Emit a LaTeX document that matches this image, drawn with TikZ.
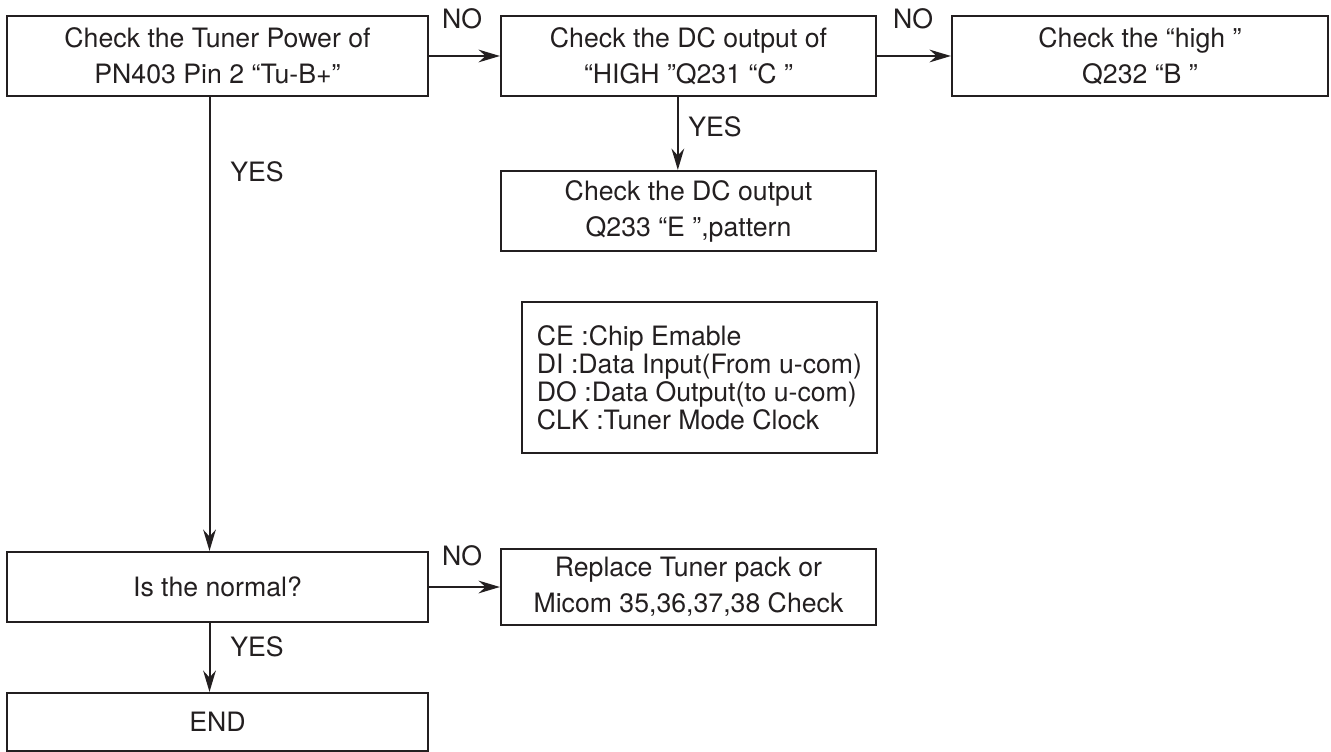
\documentclass[tikz,border=0pt]{standalone}
\usepackage{fontspec}
\setmainfont{TeX Gyre Heros}
\usetikzlibrary{arrows.meta}
\definecolor{ink}{RGB}{35,31,32}
\begin{document}
\begin{tikzpicture}[x=0.75pt,y=-0.75pt,color=ink,
    box/.style={draw,line width=1.6pt,align=center,inner sep=0pt,
      font=\fontsize{20}{27}\selectfont},
    lbl/.style={font=\fontsize{20}{24}\selectfont,inner sep=0pt},
    arr/.style={line width=1.5pt,-{Stealth[length=16pt,width=9.5pt]}}]
  \useasboundingbox (0,0) rectangle (1331,752);
  % top row
  \node[box,minimum width=315.75pt,minimum height=60pt] (tunerpwr) at (217.5,56)
    {Check the Tuner Power of\\PN403 Pin 2 “Tu-B+”};
  \node[box,minimum width=281.25pt,minimum height=60pt] (dcout) at (688.5,56)
    {Check the DC output of\\“HIGH ”Q231 “C ”};
  \node[box,minimum width=282pt,minimum height=60pt] (highchk) at (1140,56)
    {Check the “high ”\\Q232 “B ”};
  \node[box,minimum width=281.25pt,minimum height=60pt] (dcoutE) at (688.5,211)
    {Check the DC output\\Q233 “E ”,pattern};
  % legend
  \node[box,align=left,font=\fontsize{20}{21}\selectfont,
        minimum width=266.25pt,minimum height=113.25pt] (legend) at (699.5,377.5)
    {CE :Chip Emable\\DI :Data Input(From u-com)\\DO :Data Output(to u-com)\\CLK :Tuner Mode Clock};
  % bottom
  \node[box,minimum width=315.75pt,minimum height=52.5pt] (normal) at (217.5,587)
    {Is the normal?};
  \node[box,minimum width=281.25pt,minimum height=57pt] (replace) at (688.5,587)
    {Replace Tuner pack or\\Micom 35,36,37,38 Check};
  \node[box,minimum width=315.75pt,minimum height=43.5pt] (finish) at (217.5,722)
    {END};

  \draw[arr] (tunerpwr) -- (dcout);
  \draw[arr] (dcout) -- (highchk);
  \draw[arr] ([xshift=-8pt]dcout.south) -- ([xshift=-8pt]dcoutE.north);
  \draw[arr] ([xshift=-6pt]tunerpwr.south) -- ([xshift=-6pt]normal.north);
  \draw[arr] (normal) -- (replace);
  \draw[arr] ([xshift=-6pt]normal.south) -- ([xshift=-6pt]finish.north);

  \node[lbl] (no1) at (462,19) {NO};
  \node[lbl] (no2) at (913,19) {NO};
  \node[lbl] (no3) at (462,556) {NO};
  \node[lbl] (yes1) at (257,172) {YES};
  \node[lbl] (yes2) at (715,127) {YES};
  \node[lbl] (yes3) at (257,647) {YES};
\end{tikzpicture}
\end{document}
